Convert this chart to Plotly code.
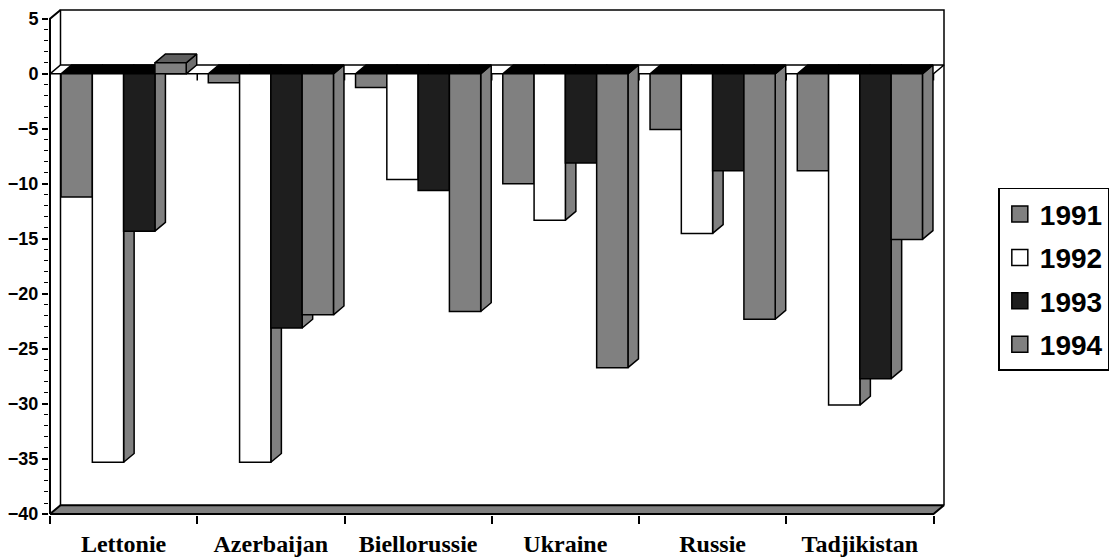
import plotly.graph_objects as go

# ---------------- data ----------------
categories = ["Lettonie", "Azerbaijan", "Biellorussie", "Ukraine", "Russie", "Tadjikistan"]
years = ["1991", "1992", "1993", "1994"]
v1991 = [-11.2, -0.8, -1.25, -10.0, -5.05, -8.8]
v1992 = [-35.3, -35.3, -9.6, -13.3, -14.5, -30.1]
v1993 = [-14.3, -23.1, -10.6, -8.1, -8.8, -27.7]
v1994 = [1.0, -21.9, -21.6, -26.7, -22.3, -15.05]
y_tick_values = [-40, -35, -30, -25, -20, -15, -10, -5, 0, 5]

series = [v1991, v1992, v1993, v1994]
front_colors = ["#808080", "#ffffff", "#1e1e1e", "#808080"]

# ---------------- geometry / style ----------------
W_PX, H_PX = 1115, 560
ppx, ppy = 147.2, 11.0          # pixels per data unit
x0px, y0px = 50, 514            # front-left-bottom corner of the box
DXpx, DYpx = 10.5, 8.8          # depth offset of the 3-D box
pad = 1.0
n = len(categories)
XL, XR = -0.5, n - 0.5
YMIN, YMAX = -40, 5
DX, DY = DXpx / ppx, DYpx / ppy
BW = 0.2125                     # bar width (category units)

xr = [XL - pad / ppx, XR + DX + pad / ppx]
yr = [YMIN - pad / ppy, YMAX + DY + pad / ppy]
m_l = x0px - pad
plot_w = (xr[1] - xr[0]) * ppx
m_r = W_PX - m_l - plot_w
m_b = H_PX - (y0px + pad)
plot_h = (yr[1] - yr[0]) * ppy
m_t = H_PX - m_b - plot_h

LW = 1.5
fig = go.Figure()


def poly(xs, ys, fill, z, width=LW):
    fig.add_trace(go.Scatter(
        x=xs + [xs[0]], y=ys + [ys[0]], mode="lines",
        fill="toself" if fill else None, fillcolor=fill,
        line=dict(color="black", width=width),
        showlegend=False, hoverinfo="skip", zorder=z))


def polyline(xs, ys, z, width=LW):
    fig.add_trace(go.Scatter(
        x=xs, y=ys, mode="lines", line=dict(color="black", width=width),
        showlegend=False, hoverinfo="skip", zorder=z))


# back wall
polyline([XL + DX, XL + DX, XR + DX, XR + DX],
         [YMIN + DY, YMAX + DY, YMAX + DY, YMIN + DY], 0)
# left wall front edge (value axis line)
polyline([XL, XL, XL + DX], [YMIN, YMAX, YMAX + DY], 0, width=2)
# floor
poly([XL, XR, XR + DX, XL + DX], [YMIN, YMIN, YMIN + DY, YMIN + DY], "#808080", 0, width=2)
# plane at zero (category axis crossing)
poly([XL, XR, XR + DX, XL + DX], [0, 0, DY, DY], "#ffffff", 1)
# ticks under the zero plane at category boundaries
tx, ty = [], []
for k in range(1, n + 1):
    b = XL + k
    tx += [b, b, None]
    ty += [0, -0.6, None]
fig.add_trace(go.Scatter(x=tx, y=ty, mode="lines", line=dict(color="black", width=LW),
                         showlegend=False, hoverinfo="skip", zorder=1))

# bars: side face, top face, then front face (Bar trace)
for j, vals in enumerate(series):
    off = -2 * BW + j * BW
    for i, v in enumerate(vals):
        x0 = i + off
        x1 = x0 + BW
        lo, hi = min(v, 0), max(v, 0)
        side_col = "#808080" if v <= 0 else "#6e6e6e"
        top_col = "#000000" if v <= 0 else "#5f5f5f"
        poly([x1, x1, x1 + DX, x1 + DX], [lo, hi, hi + DY, lo + DY], side_col, 2 + 3 * j)
        poly([x0, x1, x1 + DX, x0 + DX], [hi, hi, hi + DY, hi + DY], top_col, 3 + 3 * j)
    fig.add_trace(go.Bar(
        x=list(range(n)), y=vals, width=BW, offset=off,
        marker=dict(color=front_colors[j], line=dict(color="black", width=LW)),
        showlegend=False, name=years[j], zorder=4 + 3 * j))

# legend entries
for j, yname in enumerate(years):
    fig.add_trace(go.Scatter(
        x=[None], y=[None], mode="markers", name=yname, legendgroup=yname,
        marker=dict(symbol="square", size=16, color=front_colors[j],
                    line=dict(color="black", width=1.5))))

fig.update_layout(
    width=W_PX, height=H_PX,
    margin=dict(l=m_l, r=m_r, t=m_t, b=m_b, autoexpand=False),
    paper_bgcolor="white", plot_bgcolor="white",
    barmode="overlay",
    showlegend=True,
    legend=dict(
        x=(998 - m_l) / plot_w, y=(H_PX - m_b - 188) / plot_h,
        xanchor="left", yanchor="top",
        bordercolor="black", borderwidth=1.5, bgcolor="white",
        font=dict(family="Liberation Sans", size=28, color="black", weight="bold"),
        tracegroupgap=4, itemsizing="trace",
    ),
    xaxis=dict(
        range=xr, showgrid=False, zeroline=False, showline=False,
        tickmode="array", tickvals=list(range(n)), ticktext=categories,
        ticks="", ticklabelstandoff=12,
        tickfont=dict(family="Liberation Serif", size=24, color="black", weight="bold"),
        minor=dict(tickmode="array", tickvals=[XL + k for k in range(n + 1)],
                   ticks="outside", ticklen=8, tickwidth=1.5, tickcolor="black"),
        automargin=False, fixedrange=True,
    ),
    yaxis=dict(
        range=yr, showgrid=False, zeroline=False, showline=False,
        tickmode="array", tickvals=y_tick_values,
        ticks="outside", ticklen=6, tickwidth=1.5, tickcolor="black",
        tickfont=dict(family="Liberation Sans", size=18, color="black", weight="bold"),
        minor=dict(dtick=1, tick0=0, ticks="outside", ticklen=4, tickwidth=1.2, tickcolor="black"),
        automargin=False, fixedrange=True,
    ),
)

fig.write_html(
    "out.html",
    config={"displayModeBar": False},
    post_script="document.body.style.margin='0';document.body.style.overflow='hidden';",
)
